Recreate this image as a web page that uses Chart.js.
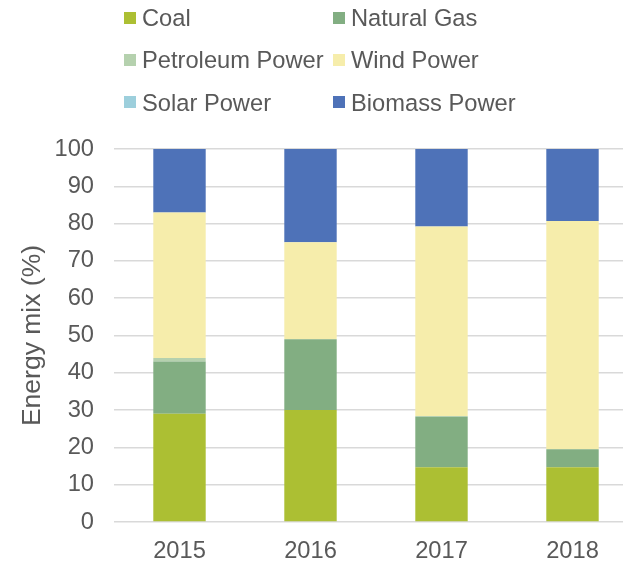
<!DOCTYPE html>
<html>
<head>
<meta charset="utf-8">
<script src="https://cdn.jsdelivr.net/npm/chart.js@4/dist/chart.umd.min.js"></script>
<style>
    html, body { margin: 0; padding: 0; background: #fff; overflow: hidden; }
    #wrap { position: relative; width: 623px; height: 561px; overflow: hidden; }
    #chart { position: absolute; left: 0; top: 0; }
    #legend { position: absolute; left: 0; top: 0; width: 623px; font-family: "Liberation Sans", Arial, sans-serif; font-size: 23.7px; color: #595959; }
    .item { position: absolute; height: 42px; line-height: 42px; white-space: nowrap; }
    .box { display: inline-block; width: 12px; height: 12px; margin-right: 6px; vertical-align: middle; position: relative; top: -2px; }
</style>
</head>
<body>
<div id="wrap">
    <canvas id="chart" width="638" height="561"></canvas>
    <div id="legend"></div>
</div>
<script>
// values (percent of energy mix)
const years = ['2015', '2016', '2017', '2018'];
const coal = [29, 30, 14.7, 14.7];
const naturalGas = [14, 19, 13.5, 4.8];
const petroleumPower = [1, 0, 0.2, 0];
const windPower = [39, 26, 50.8, 61.2];
const solarPower = [0, 0, 0, 0];
const biomassPower = [17, 25, 20.8, 19.3];
const yTicks = [0, 10, 20, 30, 40, 50, 60, 70, 80, 90, 100];

const textColor = '#595959';
const fontFamily = '"Liberation Sans", Arial, sans-serif';

const series = [
    { label: 'Coal', data: coal, color: '#acbf33' },
    { label: 'Natural Gas', data: naturalGas, color: '#82ae82' },
    { label: 'Petroleum Power', data: petroleumPower, color: '#b5d1ae' },
    { label: 'Wind Power', data: windPower, color: '#f6edab' },
    { label: 'Solar Power', data: solarPower, color: '#9dcfdc' },
    { label: 'Biomass Power', data: biomassPower, color: '#4e72b8' }
];

// legend in two columns, like the original
const legendEl = document.getElementById('legend');
series.forEach((s, i) => {
    const col = i % 2, row = Math.floor(i / 2);
    const div = document.createElement('div');
    div.className = 'item';
    div.style.left = (col === 0 ? 124 : 333) + 'px';
    div.style.top = (-3 + row * 42.3) + 'px';
    div.innerHTML = '<span class="box" style="background:' + s.color + '"></span>' + s.label;
    legendEl.appendChild(div);
});

const ctx = document.getElementById('chart').getContext('2d');
const chart = new Chart(ctx, {
    type: 'bar',
    data: {
        labels: years,
        datasets: series.map(s => ({
            label: s.label,
            data: s.data,
            backgroundColor: s.color,
            borderWidth: 0,
            categoryPercentage: 1,
            barPercentage: 0.4
        }))
    },
    options: {
        responsive: false,
        animation: false,
        devicePixelRatio: 1,
        layout: { padding: { top: 149, left: 0, right: 0, bottom: 0 } },
        plugins: {
            legend: { display: false },
            tooltip: { enabled: false }
        },
        scales: {
            x: {
                stacked: true,
                grid: { display: false, drawTicks: false },
                border: { display: false },
                ticks: {
                    color: textColor,
                    font: { family: fontFamily, size: 23.7 },
                    padding: 15
                },
                afterFit: axis => { axis.height = 39; }
            },
            y: {
                stacked: true,
                min: 0,
                max: 100,
                afterBuildTicks: axis => { axis.ticks = yTicks.map(v => ({ value: v })); },
                grid: { color: '#d9d9d9', lineWidth: 1.5, drawTicks: false },
                border: { display: false },
                ticks: {
                    color: textColor,
                    font: { family: fontFamily, size: 23.7 },
                    padding: 20
                },
                title: {
                    display: true,
                    text: 'Energy mix (%)',
                    color: textColor,
                    font: { family: fontFamily, size: 26.5 },
                    padding: { top: 17, bottom: 0 }
                },
                afterFit: axis => { axis.width = 114; }
            }
        }
    }
});
</script>
</body>
</html>
